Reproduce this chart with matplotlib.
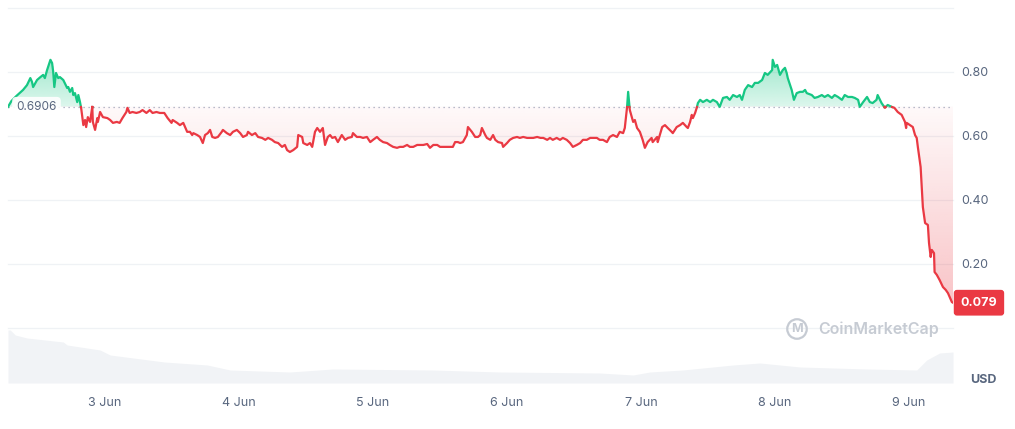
import numpy as np
import matplotlib
matplotlib.use("Agg")
import matplotlib.pyplot as plt

plt.rcParams['font.family'] = ['Inter', 'DejaVu Sans']

# Prix (USD), temps en heures depuis le 2 juin 00:00
hours = [6.6, 7.2, 8.1, 9.3, 10.0, 10.6, 10.9, 11.1, 11.8, 12.4, 12.9, 13.2, 13.6, 14.2, 14.5, 14.7, 14.9,
         15.2, 15.6, 15.9, 16.5, 17.2, 17.4, 17.7, 18.1, 18.3, 18.6, 19.0, 19.2, 19.5, 19.7, 20.1, 20.4,
         20.6, 20.9, 21.3, 21.7, 21.8, 22.2, 22.6, 22.7, 23.1, 23.6, 24.4, 24.9, 25.4, 26.1, 26.6, 27.1,
         27.8, 28.0, 28.4, 28.9, 29.6, 30.2, 30.7, 31.4, 32.0, 32.5, 33.2, 33.8,
         34.3, 34.6, 35.2, 35.9, 36.1, 36.9, 37.4, 38.0, 38.7, 39.2, 39.6, 39.8, 40.5, 41.0, 41.5, 41.9,
         42.4, 42.8, 43.2, 43.7, 44.2, 44.9, 45.1, 45.8, 46.4, 46.9, 47.6, 48.2, 48.7, 49.4, 49.6, 50.3,
         50.9, 51.4, 52.1, 52.7, 53.2, 53.9, 54.4, 55.0, 55.7, 56.2, 56.6, 57.1, 57.7, 58.4, 58.6, 59.3,
         59.5, 60.2, 60.7, 61.1, 61.6, 62.0, 62.5,
         63.0, 63.4, 63.9, 64.3, 64.7, 65.2, 65.7, 66.4, 67.0, 67.5, 68.2, 68.4, 69.1, 69.7, 70.2, 70.9,
         71.5, 72.0, 72.7, 73.2, 73.8, 74.5, 75.0, 75.6, 76.3, 76.8, 77.4, 78.1, 78.6, 79.2, 79.9, 80.4,
         81.0, 81.7, 82.2, 82.8, 83.5, 84.0, 84.5, 85.2, 85.8, 86.3, 86.7, 87.2, 87.6, 88.1, 88.8, 89.0,
         89.7, 90.3, 90.8, 91.2, 91.5,
         92.1, 92.4, 93.0, 93.5, 93.9, 94.4, 95.1, 95.3, 96.0, 96.5, 97.1, 97.8, 98.3, 98.9, 99.6, 100.1,
         100.7, 101.4, 102.0, 102.5, 103.2, 103.7, 104.2, 104.9, 105.5, 106.0, 106.7, 107.3, 107.8, 108.5,
         109.1, 109.6, 110.3, 110.9, 111.4, 112.1, 112.6, 113.2, 113.9, 114.4, 115.0, 115.7, 116.2, 116.8,
         117.1, 117.5, 117.7, 118.0, 118.4, 118.6, 118.9, 119.3, 119.8,
         120.3, 120.7, 121.2, 121.9, 122.1, 122.9, 123.0, 123.8, 124.3, 124.8, 125.5, 125.7, 126.4, 127.0,
         127.5, 128.2, 128.4, 128.8, 129.1, 129.3, 129.7, 130.0, 130.2, 130.6, 131.1, 131.8, 132.4, 132.9,
         133.6, 134.1, 134.7, 135.4, 135.9, 136.5, 137.2, 137.7, 138.1, 138.6, 139.2, 139.9, 140.4, 141.0,
         141.7, 142.2, 142.7, 143.5, 143.6, 144.0, 144.4, 144.9, 145.4, 145.8, 146.1, 146.3, 147.0, 147.4,
         147.9, 148.5,
         149.0, 149.4, 149.7, 150.6, 151.1, 151.7, 152.4, 152.9, 153.5, 154.2, 154.7, 155.3, 156.0, 156.5,
         157.1, 157.8, 158.3, 158.9, 159.2, 159.8, 160.5, 161.0, 161.5, 162.2, 162.4, 163.1, 163.7, 164.2,
         164.9, 165.4, 166.0, 166.7, 167.3, 167.5, 167.6, 168.2, 168.7, 169.1, 169.4, 169.6, 169.8, 170.1,
         170.3, 170.5, 170.9, 171.4, 171.6, 171.9, 172.1, 172.5, 172.6, 173.0, 173.5, 174.1, 174.6, 175.0,
         175.7, 175.9]
price = [0.691, 0.709, 0.725, 0.744, 0.759, 0.781, 0.769, 0.753, 0.775, 0.784, 0.791, 0.781, 0.806, 0.838, 0.828, 0.800, 0.753,
         0.797, 0.781, 0.784, 0.775, 0.750, 0.753, 0.738, 0.750, 0.728, 0.734, 0.706, 0.728, 0.706, 0.688, 0.634, 0.650,
         0.628, 0.659, 0.644, 0.691, 0.644, 0.619, 0.656, 0.644, 0.675, 0.659, 0.656, 0.650, 0.641, 0.644, 0.641, 0.656,
         0.675, 0.688, 0.672, 0.675, 0.672, 0.675, 0.681, 0.672, 0.681, 0.672, 0.675, 0.672,
         0.672, 0.672, 0.656, 0.641, 0.650, 0.641, 0.634, 0.641, 0.613, 0.613, 0.603, 0.609, 0.603, 0.597, 0.578, 0.603,
         0.609, 0.619, 0.597, 0.594, 0.597, 0.613, 0.619, 0.609, 0.603, 0.613, 0.619, 0.609, 0.597, 0.603, 0.613, 0.603,
         0.609, 0.597, 0.594, 0.588, 0.594, 0.588, 0.581, 0.578, 0.566, 0.572, 0.556, 0.550, 0.556, 0.566, 0.603, 0.597,
         0.578, 0.572, 0.578, 0.566, 0.613, 0.625, 0.613,
         0.625, 0.572, 0.597, 0.603, 0.594, 0.597, 0.581, 0.603, 0.588, 0.594, 0.597, 0.609, 0.597, 0.597, 0.594, 0.597,
         0.581, 0.588, 0.597, 0.588, 0.581, 0.578, 0.572, 0.566, 0.563, 0.566, 0.566, 0.572, 0.566, 0.566, 0.572, 0.572,
         0.572, 0.575, 0.563, 0.572, 0.572, 0.566, 0.566, 0.566, 0.566, 0.566, 0.581, 0.581, 0.578, 0.581, 0.603, 0.628,
         0.613, 0.597, 0.597, 0.603, 0.625,
         0.603, 0.594, 0.588, 0.603, 0.588, 0.581, 0.578, 0.566, 0.578, 0.588, 0.594, 0.597, 0.594, 0.597, 0.594, 0.594,
         0.594, 0.597, 0.594, 0.594, 0.588, 0.594, 0.588, 0.594, 0.588, 0.594, 0.588, 0.578, 0.566, 0.572,
         0.578, 0.588, 0.588, 0.594, 0.594, 0.594, 0.588, 0.588, 0.581, 0.597, 0.603, 0.597, 0.613, 0.609,
         0.625, 0.688, 0.738, 0.681, 0.656, 0.644, 0.650, 0.625, 0.613,
         0.588, 0.563, 0.581, 0.594, 0.581, 0.597, 0.581, 0.628, 0.634, 0.625, 0.613, 0.609, 0.628, 0.634,
         0.641, 0.628, 0.625, 0.644, 0.666, 0.656, 0.672, 0.688, 0.703, 0.713, 0.706, 0.713, 0.706, 0.713,
         0.706, 0.691, 0.719, 0.722, 0.713, 0.728, 0.722, 0.728, 0.713, 0.744, 0.759, 0.753, 0.766, 0.766,
         0.775, 0.797, 0.791, 0.806, 0.838, 0.816, 0.822, 0.791, 0.806, 0.813, 0.797, 0.781, 0.744, 0.713,
         0.734, 0.738,
         0.738, 0.744, 0.734, 0.728, 0.719, 0.722, 0.728, 0.722, 0.728, 0.719, 0.728, 0.722, 0.713, 0.728,
         0.722, 0.722, 0.719, 0.713, 0.691, 0.706, 0.722, 0.706, 0.703, 0.713, 0.728, 0.703, 0.688, 0.697,
         0.691, 0.688, 0.675, 0.666, 0.644, 0.625, 0.641, 0.634, 0.628, 0.603, 0.594, 0.566, 0.541, 0.503,
         0.441, 0.378, 0.328, 0.322, 0.266, 0.222, 0.244, 0.234, 0.175, 0.166, 0.150, 0.128, 0.119, 0.109,
         0.081, 0.079]

# Volume (unités arbitraires)
vol_hours = [6.6, 7.0, 7.9, 10.0, 16.5, 17.2, 23.1, 24.9, 34.6, 42.3, 46.4, 57.1, 64.8, 82.7, 94.7,
             112.6, 118.6, 121.6, 127.5, 136.5, 141.3, 148.5, 160.5, 169.4, 171.2, 173.5, 175.9]
volume = [53, 53, 48, 45, 41, 38, 33, 28, 21, 18, 13, 11, 14, 13, 11,
          10, 8, 11, 13, 18, 20, 16, 14, 13, 23, 30, 31]

base = 0.6906
day_ticks = [24, 48, 72, 96, 120, 144, 168]
day_labels = ['3 Jun', '4 Jun', '5 Jun', '6 Jun', '7 Jun', '8 Jun', '9 Jun']
price_ticks = [0.2, 0.4, 0.6, 0.8]

VERT = '#16c784'
ROUGE = '#ea3943'
GRIS = '#58667e'

x = np.array(hours)
y = np.array(price)

# insertion des croisements avec la ligne de base
xs, ys = [x[0]], [y[0]]
for i in range(1, len(x)):
    if (y[i-1] - base) * (y[i] - base) < 0:
        t = (base - y[i-1]) / (y[i] - y[i-1])
        xs.append(x[i-1] + t * (x[i] - x[i-1])); ys.append(base)
    xs.append(x[i]); ys.append(y[i])
xs = np.array(xs); ys = np.array(ys)

fig = plt.figure(figsize=(10.15, 4.29), dpi=100)
W, H = 1015, 429
ax = fig.add_axes([8 / W, 101 / H, 945 / W, 320 / H])
axv = fig.add_axes([8 / W, 46 / H, 945 / W, 53 / H])

x0, x1 = x[0], x[-1]

# degrades
xg = np.linspace(x0, x1, 1400)
yg = np.linspace(0, 1, 700)
pg = np.interp(xg, xs, ys)
XX, YY = np.meshgrid(xg, yg)
PP = np.broadcast_to(pg, XX.shape)
img = np.zeros(XX.shape + (4,))
up = (YY >= base) & (YY <= PP)
dn = (YY <= base) & (YY >= PP)
g = matplotlib.colors.to_rgb(VERT)
r = matplotlib.colors.to_rgb(ROUGE)
img[up, :3] = g
img[up, 3] = np.clip(0.15 + 0.28 * (YY[up] - base) / (0.85 - base), 0, 0.45)
img[dn, :3] = r
img[dn, 3] = np.clip(0.03 + 0.3 * (base - YY[dn]) / base, 0, 0.4)
ax.imshow(img, extent=[x0, x1, 0, 1], origin='lower', aspect='auto', zorder=1)

for v in [0, 0.2, 0.4, 0.6, 0.8, 1.0]:
    ax.axhline(v, color='#eff2f5', lw=0.9, zorder=0, clip_on=False)
ax.axhline(base, color='#a1a7bb', lw=0.9, ls=(0, (1, 3)), zorder=2)

ax.plot(xs, np.where(ys >= base, ys, np.nan), color=VERT, lw=1.6, zorder=3)
ax.plot(xs, np.where(ys <= base, ys, np.nan), color=ROUGE, lw=1.6, zorder=3)

ax.set_xlim(x0, x1)
ax.set_ylim(0, 1)
ax.yaxis.tick_right()
ax.set_yticks(price_ticks)
ax.set_yticklabels([f'{v:.2f}' for v in price_ticks])
ax.set_xticks([])
ax.tick_params(axis='y', length=0, pad=5.8, labelsize=9, labelcolor=GRIS)
for s in ax.spines.values():
    s.set_visible(False)
ax.patch.set_alpha(0)

# etiquettes
ax.annotate(f'{base:.4f}', xy=(x0, base), xytext=(6, 0), textcoords='offset points',
            ha='left', va='center', fontsize=8.5, color=GRIS, zorder=5,
            bbox=dict(boxstyle='round,pad=0.35', fc='white', ec='none', alpha=0.9))
ax.annotate(f'{price[-1]:.3f}', xy=(x1, price[-1]), xytext=(18.7, 0), textcoords='offset points',
            ha='center', va='center', fontsize=9, color='white', fontweight='bold', zorder=5,
            annotation_clip=False,
            bbox=dict(boxstyle='round,pad=0.55,rounding_size=0.25', fc=ROUGE, ec='none'))

# volume
axv.fill_between(vol_hours, volume, 0, color='#f1f3f6', lw=0)
axv.set_xlim(x0, x1)
axv.set_ylim(0, 53)
axv.set_yticks([])
axv.set_xticks(day_ticks)
axv.set_xticklabels(day_labels)
axv.tick_params(axis='x', length=0, pad=10, labelsize=9, labelcolor=GRIS)
for s in axv.spines.values():
    s.set_visible(False)
axv.patch.set_alpha(0)

fig.text(983 / W, 1 - 380 / H, 'USD', ha='center', va='center', fontsize=9,
         fontweight='bold', color=GRIS)

# filigrane
fig.text(797 / W, 1 - 329 / H, 'M', ha='center', va='center', fontsize=9, color='#c6cbd3',
         fontweight='bold', bbox=dict(boxstyle='circle,pad=0.3', fc='none', ec='#c6cbd3', lw=1.6))
fig.text(818 / W, 1 - 329 / H, 'CoinMarketCap', ha='left', va='center', fontsize=11.5,
         color='#c6cbd3', fontweight='semibold')

fig.savefig('out.png', dpi=100)
